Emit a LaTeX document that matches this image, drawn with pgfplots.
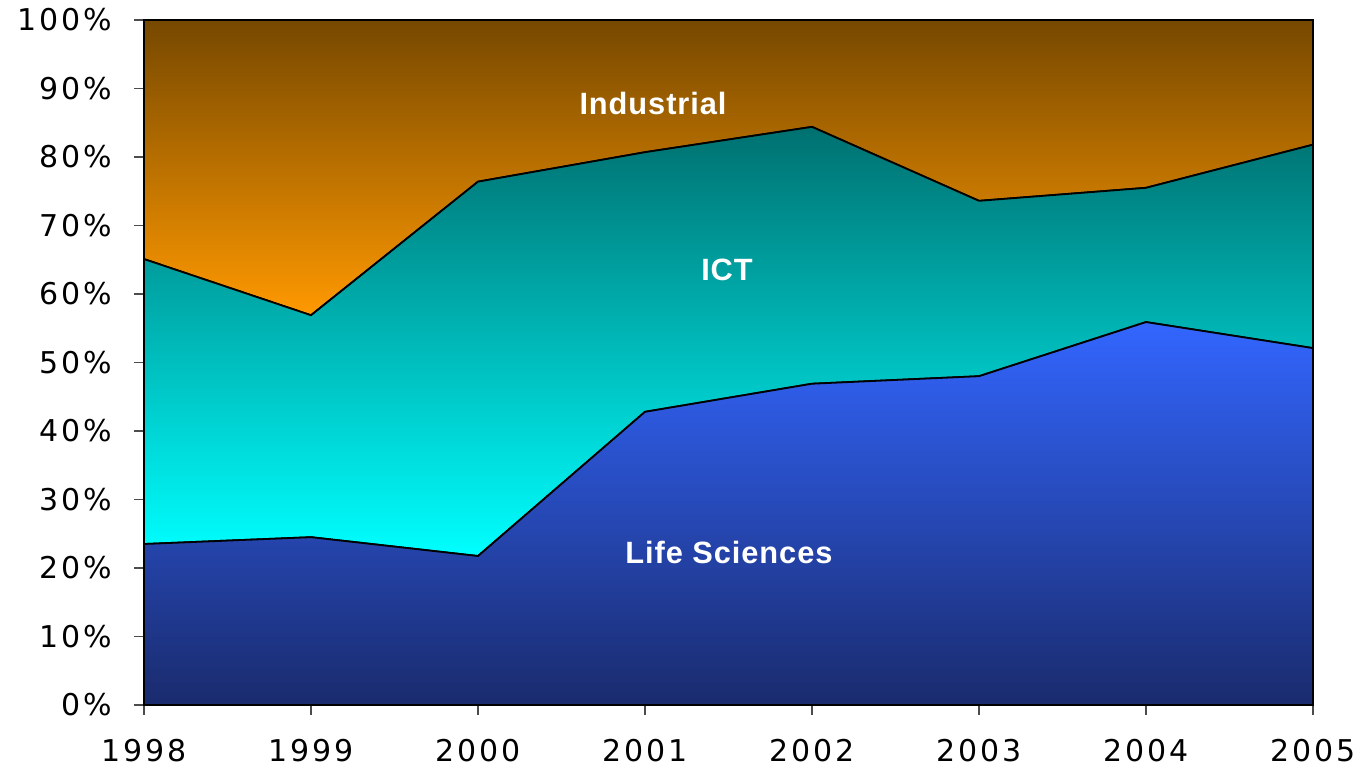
\documentclass[border=0pt]{standalone}
\usepackage{fontspec}
\setmainfont{DejaVu Sans}[LetterSpace=9]
\newfontfamily\labfont{Liberation Sans}[LetterSpace=3]
\usepackage{pgfplots}
\pgfplotsset{compat=1.18}
\definecolor{lsTop}{HTML}{3366FF}
\definecolor{lsBot}{HTML}{1A2B6D}
\definecolor{ictTop}{HTML}{007070}
\definecolor{ictBot}{HTML}{00FFFF}
\definecolor{indTop}{HTML}{764800}
\definecolor{indBot}{HTML}{FF9900}
\begin{document}
\begin{tikzpicture}
\begin{axis}[
  scale only axis,
  width=584.5bp, height=342.5bp,
  xmin=1998, xmax=2005, ymin=0, ymax=100,
  stack plots=y,
  axis lines=left,
  axis line style={black, line width=0.9pt, -},
  xtick={1998,1999,2000,2001,2002,2003,2004,2005},
  ytick={0,10,20,30,40,50,60,70,80,90,100},
  yticklabels={0\%,10\%,20\%,30\%,40\%,50\%,60\%,70\%,80\%,90\%,100\%},
  tick align=outside,
  tick style={black!70, line width=0.6pt},
  major tick length=5bp,
  /pgf/number format/1000 sep={},
  /pgf/number format/assume math mode=true,
  tick label style={font=\fontsize{15bp}{16bp}\selectfont},
  yticklabel style={anchor=east, inner sep=0pt, xshift=-11bp},
  xticklabel style={anchor=north, inner sep=0pt, yshift=-12bp},
  clip=false,
]
\addplot[draw=black, line width=0.9pt, top color=lsTop, bottom color=lsBot] coordinates {
 (1998,23.5) (1999,24.5) (2000,21.75) (2001,42.8) (2002,46.9) (2003,48.0) (2004,55.9) (2005,52.1)
} \closedcycle;
\addplot[draw=black, line width=0.9pt, top color=ictTop, bottom color=ictBot] coordinates {
 (1998,41.6) (1999,32.4) (2000,54.65) (2001,37.9) (2002,37.5) (2003,25.6) (2004,19.6) (2005,29.7)
} \closedcycle;
\addplot[draw=black, line width=0.9pt, top color=indTop, bottom color=indBot] coordinates {
 (1998,34.9) (1999,43.1) (2000,23.6) (2001,19.3) (2002,15.6) (2003,26.4) (2004,24.5) (2005,18.2)
} \closedcycle;
\end{axis}
\begin{scope}[every node/.style={text=white, font=\labfont\bfseries\fontsize{15.4bp}{17bp}\selectfont}]
\node at (0.4354*584.5bp, 0.8774*342.5bp) {Industrial};
\node at (0.4987*584.5bp, 0.6350*342.5bp) {ICT};
\node at (0.5004*584.5bp, 0.2230*342.5bp) {Life Sciences};
\end{scope}
\pgfresetboundingbox
\useasboundingbox (-72bp,-31.5bp) rectangle (608.5bp,352.5bp);
\end{tikzpicture}
\end{document}
